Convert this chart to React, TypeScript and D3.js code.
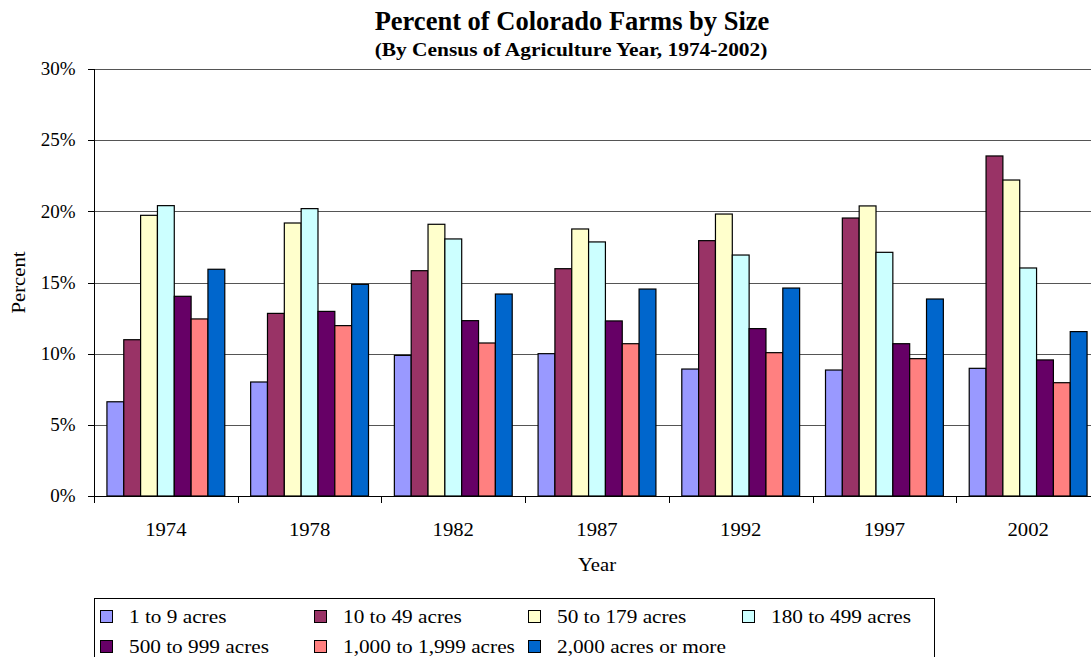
import React from "react";
import * as d3 from "d3";

const years = ["1974", "1978", "1982", "1987", "1992", "1997", "2002"];
const seriesNames = [
  "1 to 9 acres",
  "10 to 49 acres",
  "50 to 179 acres",
  "180 to 499 acres",
  "500 to 999 acres",
  "1,000 to 1,999 acres",
  "2,000 acres or more",
];
const colors = ["#9999FF", "#993366", "#FFFFCC", "#CCFFFF", "#660066", "#FF8080", "#0066CC"];

const s1to9 = [6.62, 8.01, 9.88, 10.0, 8.92, 8.85, 8.97];
const s10to49 = [10.98, 12.83, 15.83, 15.97, 17.94, 19.53, 23.89];
const s50to179 = [19.72, 19.18, 19.09, 18.76, 19.81, 20.38, 22.2];
const s180to499 = [20.4, 20.19, 18.06, 17.85, 16.93, 17.12, 16.02];
const s500to999 = [14.03, 12.97, 12.32, 12.3, 11.76, 10.7, 9.56];
const s1000to1999 = [12.44, 11.97, 10.75, 10.7, 10.07, 9.65, 7.96];
const s2000plus = [15.93, 14.87, 14.19, 14.54, 14.61, 13.84, 11.55];

const yTicks = [0, 5, 10, 15, 20, 25, 30];

const allSeries = [s1to9, s10to49, s50to179, s180to499, s500to999, s1000to1999, s2000plus];

const W = 1091;
const H = 657;
const left = 94;
const right = 1100;
const top = 69;
const bottom = 496;
const font = "'Liberation Serif', 'Times New Roman', serif";

type TProps = {
  x: number;
  y: number;
  size: number;
  sx?: number;
  anchor?: "start" | "middle" | "end";
  weight?: string;
  rotate?: number;
  children: React.ReactNode;
};

function T({ x, y, size, sx = 1, anchor = "start", weight = "normal", rotate = 0, children }: TProps) {
  return (
    <text
      transform={`translate(${x},${y}) rotate(${rotate}) scale(${sx},1)`}
      textAnchor={anchor}
      fontSize={size}
      fontWeight={weight}
      fill="#000"
    >
      {children}
    </text>
  );
}

export default function App() {
  const gap = 0.18;
  const x0 = d3.scaleBand<string>().domain(years).range([left, right]).paddingInner(gap).paddingOuter(gap / 2);
  const x1 = d3.scaleBand<string>().domain(seriesNames).range([0, x0.bandwidth()]).padding(0);
  const y = d3.scaleLinear().domain([0, 30]).range([bottom, top]);
  const step = x0.step();
  const boundaries = d3.range(years.length + 1).map((i) => left + i * step);

  const legendCols = [100, 314, 528, 742];
  const legendRows = [616.5, 646.5];
  const SX = 1.15;

  return (
    <svg
      width={W}
      height={H}
      style={{ position: "absolute", left: 0, top: 0, background: "#fff" }}
      fontFamily={font}
    >
      <rect x={0} y={0} width={W} height={H} fill="#fff" />
      <T x={572} y={29.5} size={26.5} anchor="middle" weight="bold">
        Percent of Colorado Farms by Size
      </T>
      <T x={571} y={56} size={18} sx={1.19} anchor="middle" weight="bold">
        (By Census of Agriculture Year, 1974-2002)
      </T>

      {yTicks.map((t) => (
        <g key={t}>
          {t > 0 && (
            <line x1={left} x2={right} y1={Math.round(y(t)) + 0.5} y2={Math.round(y(t)) + 0.5} stroke="#555" strokeWidth={1} />
          )}
          <line x1={left - 6} x2={left} y1={Math.round(y(t)) + 0.5} y2={Math.round(y(t)) + 0.5} stroke="#000" />
          <T x={75.5} y={y(t) + 6.3} size={19} anchor="end">
            {t}%
          </T>
        </g>
      ))}

      {years.map((yr, i) => (
        <g key={yr}>
          {allSeries.map((s, j) => {
            const bx = (x0(yr) as number) + (x1(seriesNames[j]) as number);
            return (
              <rect
                key={j}
                x={bx}
                y={y(s[i])}
                width={x1.bandwidth()}
                height={bottom - y(s[i])}
                fill={colors[j]}
                stroke="#000"
                strokeWidth={1.2}
              />
            );
          })}
          <T x={(x0(yr) as number) + x0.bandwidth() / 2} y={535.5} size={18} sx={SX} anchor="middle">
            {yr}
          </T>
        </g>
      ))}

      <line x1={left + 0.5} x2={left + 0.5} y1={top} y2={bottom} stroke="#000" />
      <line x1={left} x2={right} y1={bottom + 0.5} y2={bottom + 0.5} stroke="#000" />
      {boundaries.map((b, i) => (
        <line key={i} x1={Math.round(b) + 0.5} x2={Math.round(b) + 0.5} y1={bottom} y2={bottom + 7} stroke="#000" />
      ))}

      <T x={597} y={571} size={18} sx={SX} anchor="middle">
        Year
      </T>
      <T x={25} y={(top + bottom) / 2} size={18} sx={SX} anchor="middle" rotate={-90}>
        Percent
      </T>

      <rect x={94.5} y={598.5} width={840} height={70} fill="#fff" stroke="#000" />
      {seriesNames.map((name, k) => {
        const col = k < 4 ? k : k - 4;
        const row = k < 4 ? 0 : 1;
        const lx = legendCols[col];
        const ly = legendRows[row];
        return (
          <g key={name}>
            <rect x={lx + 0.5} y={ly - 6} width={12} height={12} fill={colors[k]} stroke="#000" />
            <T x={lx + 29} y={ly + 6.5} size={19} sx={1.12}>
              {name}
            </T>
          </g>
        );
      })}
    </svg>
  );
}
